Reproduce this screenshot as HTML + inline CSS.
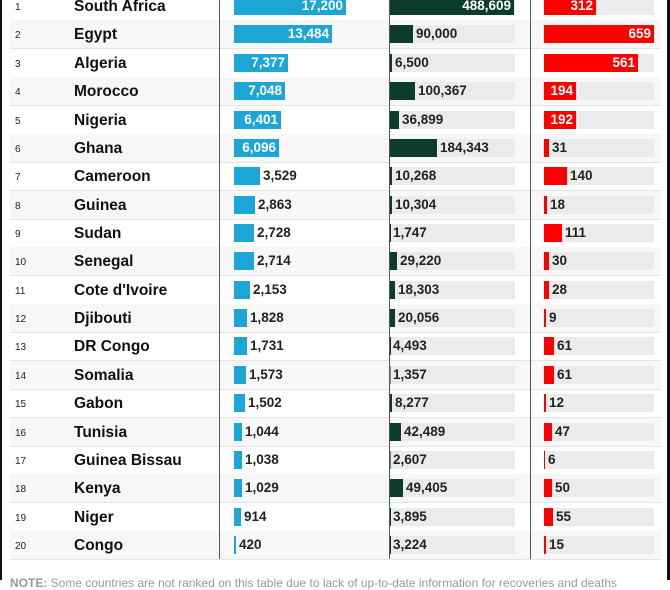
<!DOCTYPE html>
<html><head><meta charset="utf-8"><style>
body{margin:0;width:670px;height:580px;overflow:hidden;background:#fff;font-family:"Liberation Sans",Arial,sans-serif;position:relative}
.r{position:absolute;left:10px;width:651px;height:28px;border-bottom:1px solid #e4e4e4}
.g{background:#f7f7f7}
.k{position:absolute;left:5px;top:10px;font-size:10px;color:#222}
.c{position:absolute;left:64px;top:6px;font-size:15.5px;font-weight:bold;color:#111}
.b,.t,.d,.e{position:absolute;top:5px;height:18px}
.b{left:224px;background:#1ba6d6}
.t{left:380px;width:125px;background:#ebebeb}
.d{left:0;top:0;background:#0b3d2a}
.e{left:534px;width:110px;background:#ebebeb}
.f{left:0;top:0;background:#ff0000}
.v{position:absolute;top:6px;font-size:13.5px;font-weight:bold;color:#222;white-space:nowrap}
.w{color:#fff;text-align:right}
.s{position:absolute;top:0;width:1px;height:559px;background:#555}
</style></head><body>
<div style="position:absolute;left:0;top:0;width:2px;height:580px;background:#111"></div>
<div style="position:absolute;left:667px;top:0;width:3px;height:580px;background:#111"></div>

<div class="r" style="top:-8px"><span class="k">1</span><span class="c">South Africa</span><div class="b" style="width:112px"></div><span class="v w" style="left:224px;width:109px">17,200</span><div class="t"><div class="d" style="width:124px;height:18px"></div><span class="v w" style="left:0;top:1px;width:121px">488,609</span></div><div class="e"><div class="f" style="width:52px;height:18px"></div><span class="v w" style="left:0;top:1px;width:49px">312</span></div></div>
<div class="r g" style="top:20.4px"><span class="k">2</span><span class="c">Egypt</span><div class="b" style="width:98px"></div><span class="v w" style="left:224px;width:95px">13,484</span><div class="t"><div class="d" style="width:23px;height:18px"></div><span class="v" style="left:26px;top:1px">90,000</span></div><div class="e"><div class="f" style="width:110px;height:18px"></div><span class="v w" style="left:0;top:1px;width:107px">659</span></div></div>
<div class="r" style="top:48.7px"><span class="k">3</span><span class="c">Algeria</span><div class="b" style="width:54px"></div><span class="v w" style="left:224px;width:51px">7,377</span><div class="t"><div class="d" style="width:2px;height:18px"></div><span class="v" style="left:5px;top:1px">6,500</span></div><div class="e"><div class="f" style="width:94px;height:18px"></div><span class="v w" style="left:0;top:1px;width:91px">561</span></div></div>
<div class="r g" style="top:77.1px"><span class="k">4</span><span class="c">Morocco</span><div class="b" style="width:51px"></div><span class="v w" style="left:224px;width:48px">7,048</span><div class="t"><div class="d" style="width:25px;height:18px"></div><span class="v" style="left:28px;top:1px">100,367</span></div><div class="e"><div class="f" style="width:32px;height:18px"></div><span class="v w" style="left:0;top:1px;width:29px">194</span></div></div>
<div class="r" style="top:105.5px"><span class="k">5</span><span class="c">Nigeria</span><div class="b" style="width:47px"></div><span class="v w" style="left:224px;width:44px">6,401</span><div class="t"><div class="d" style="width:9px;height:18px"></div><span class="v" style="left:12px;top:1px">36,899</span></div><div class="e"><div class="f" style="width:32px;height:18px"></div><span class="v w" style="left:0;top:1px;width:29px">192</span></div></div>
<div class="r g" style="top:133.9px"><span class="k">6</span><span class="c">Ghana</span><div class="b" style="width:45px"></div><span class="v w" style="left:224px;width:42px">6,096</span><div class="t"><div class="d" style="width:47px;height:18px"></div><span class="v" style="left:50px;top:1px">184,343</span></div><div class="e"><div class="f" style="width:5px;height:18px"></div><span class="v" style="left:8px;top:1px">31</span></div></div>
<div class="r" style="top:162.2px"><span class="k">7</span><span class="c">Cameroon</span><div class="b" style="width:26px"></div><span class="v" style="left:253px">3,529</span><div class="t"><div class="d" style="width:2px;height:18px"></div><span class="v" style="left:5px;top:1px">10,268</span></div><div class="e"><div class="f" style="width:23px;height:18px"></div><span class="v" style="left:26px;top:1px">140</span></div></div>
<div class="r g" style="top:190.6px"><span class="k">8</span><span class="c">Guinea</span><div class="b" style="width:21px"></div><span class="v" style="left:248px">2,863</span><div class="t"><div class="d" style="width:2px;height:18px"></div><span class="v" style="left:5px;top:1px">10,304</span></div><div class="e"><div class="f" style="width:3px;height:18px"></div><span class="v" style="left:6px;top:1px">18</span></div></div>
<div class="r" style="top:219px"><span class="k">9</span><span class="c">Sudan</span><div class="b" style="width:20px"></div><span class="v" style="left:247px">2,728</span><div class="t"><div class="d" style="width:1px;height:18px"></div><span class="v" style="left:3px;top:1px">1,747</span></div><div class="e"><div class="f" style="width:18px;height:18px"></div><span class="v" style="left:21px;top:1px">111</span></div></div>
<div class="r g" style="top:247.3px"><span class="k">10</span><span class="c">Senegal</span><div class="b" style="width:20px"></div><span class="v" style="left:247px">2,714</span><div class="t"><div class="d" style="width:7px;height:18px"></div><span class="v" style="left:10px;top:1px">29,220</span></div><div class="e"><div class="f" style="width:5px;height:18px"></div><span class="v" style="left:8px;top:1px">30</span></div></div>
<div class="r" style="top:275.7px"><span class="k">11</span><span class="c">Cote d'Ivoire</span><div class="b" style="width:16px"></div><span class="v" style="left:243px">2,153</span><div class="t"><div class="d" style="width:5px;height:18px"></div><span class="v" style="left:8px;top:1px">18,303</span></div><div class="e"><div class="f" style="width:5px;height:18px"></div><span class="v" style="left:8px;top:1px">28</span></div></div>
<div class="r g" style="top:304.1px"><span class="k">12</span><span class="c">Djibouti</span><div class="b" style="width:13px"></div><span class="v" style="left:240px">1,828</span><div class="t"><div class="d" style="width:5px;height:18px"></div><span class="v" style="left:8px;top:1px">20,056</span></div><div class="e"><div class="f" style="width:1.5px;height:18px"></div><span class="v" style="left:5px;top:1px">9</span></div></div>
<div class="r" style="top:332.4px"><span class="k">13</span><span class="c">DR Congo</span><div class="b" style="width:13px"></div><span class="v" style="left:240px">1,731</span><div class="t"><div class="d" style="width:1px;height:18px"></div><span class="v" style="left:3px;top:1px">4,493</span></div><div class="e"><div class="f" style="width:10px;height:18px"></div><span class="v" style="left:13px;top:1px">61</span></div></div>
<div class="r g" style="top:360.8px"><span class="k">14</span><span class="c">Somalia</span><div class="b" style="width:12px"></div><span class="v" style="left:239px">1,573</span><div class="t"><div class="d" style="width:1px;height:18px;opacity:.5"></div><span class="v" style="left:3px;top:1px">1,357</span></div><div class="e"><div class="f" style="width:10px;height:18px"></div><span class="v" style="left:13px;top:1px">61</span></div></div>
<div class="r" style="top:389.2px"><span class="k">15</span><span class="c">Gabon</span><div class="b" style="width:11px"></div><span class="v" style="left:238px">1,502</span><div class="t"><div class="d" style="width:2px;height:18px"></div><span class="v" style="left:5px;top:1px">8,277</span></div><div class="e"><div class="f" style="width:2px;height:18px"></div><span class="v" style="left:5px;top:1px">12</span></div></div>
<div class="r g" style="top:417.6px"><span class="k">16</span><span class="c">Tunisia</span><div class="b" style="width:8px"></div><span class="v" style="left:235px">1,044</span><div class="t"><div class="d" style="width:11px;height:18px"></div><span class="v" style="left:14px;top:1px">42,489</span></div><div class="e"><div class="f" style="width:8px;height:18px"></div><span class="v" style="left:11px;top:1px">47</span></div></div>
<div class="r" style="top:445.9px"><span class="k">17</span><span class="c">Guinea Bissau</span><div class="b" style="width:8px"></div><span class="v" style="left:235px">1,038</span><div class="t"><div class="d" style="width:1px;height:18px;opacity:.6"></div><span class="v" style="left:3px;top:1px">2,607</span></div><div class="e"><div class="f" style="width:1px;height:18px"></div><span class="v" style="left:4px;top:1px">6</span></div></div>
<div class="r g" style="top:474.3px"><span class="k">18</span><span class="c">Kenya</span><div class="b" style="width:8px"></div><span class="v" style="left:235px">1,029</span><div class="t"><div class="d" style="width:13px;height:18px"></div><span class="v" style="left:16px;top:1px">49,405</span></div><div class="e"><div class="f" style="width:8px;height:18px"></div><span class="v" style="left:11px;top:1px">50</span></div></div>
<div class="r" style="top:502.7px"><span class="k">19</span><span class="c">Niger</span><div class="b" style="width:7px"></div><span class="v" style="left:234px">914</span><div class="t"><div class="d" style="width:1px;height:18px"></div><span class="v" style="left:3px;top:1px">3,895</span></div><div class="e"><div class="f" style="width:9px;height:18px"></div><span class="v" style="left:12px;top:1px">55</span></div></div>
<div class="r g" style="top:531px"><span class="k">20</span><span class="c">Congo</span><div class="b" style="width:2px"></div><span class="v" style="left:229px">420</span><div class="t"><div class="d" style="width:1px;height:18px"></div><span class="v" style="left:3px;top:1px">3,224</span></div><div class="e"><div class="f" style="width:2px;height:18px"></div><span class="v" style="left:5px;top:1px">15</span></div></div>

<div class="s" style="left:219px"></div>
<div class="s" style="left:389px"></div>
<div class="s" style="left:530px"></div>
<div style="position:absolute;left:10px;top:576px;font-size:12px;color:#999;white-space:nowrap"><b>NOTE:</b> Some countries are not ranked on this table due to lack of up-to-date information for recoveries and deaths</div>
</body></html>
